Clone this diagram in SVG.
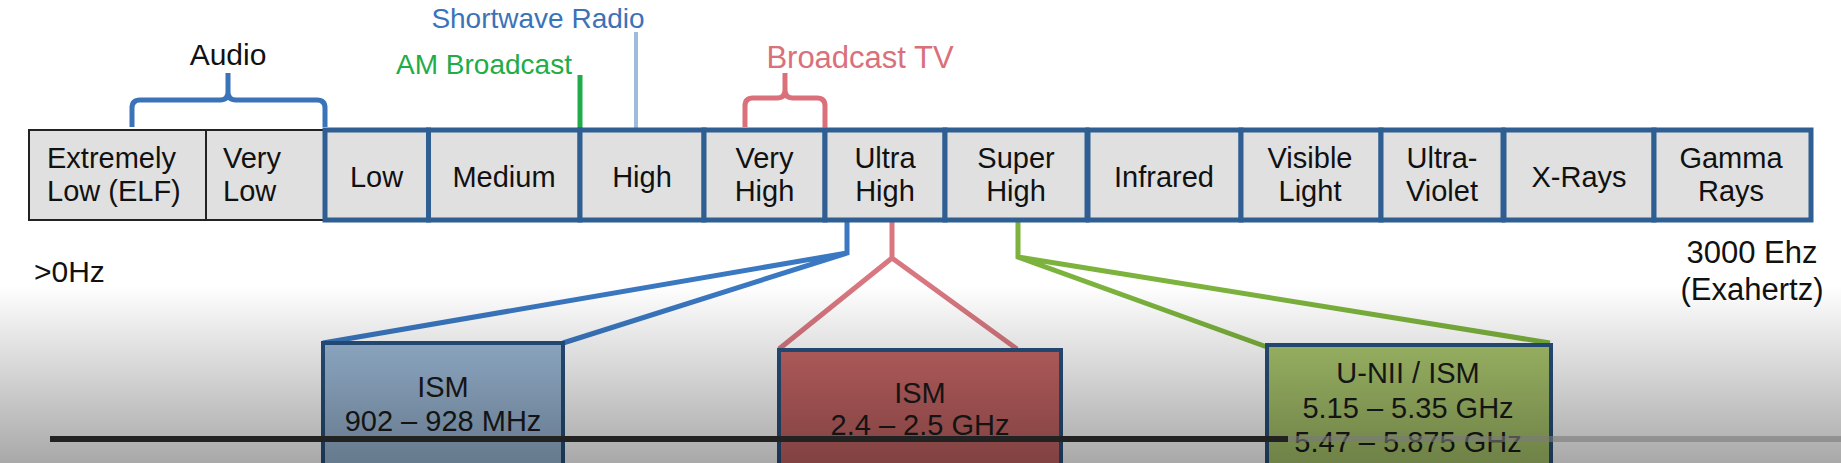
<svg xmlns="http://www.w3.org/2000/svg" width="1841" height="463" viewBox="0 0 1841 463">
<defs>
<style>
text{font-family:"Liberation Sans",Arial,sans-serif;fill:#111;}
.bt{font-size:29px;text-anchor:middle;}
.bl{font-size:29px;text-anchor:start;}
.band{fill:#e0e0e0;stroke:#2f5e92;stroke-width:5;}
.aud{fill:#e0e0e0;stroke:#222;stroke-width:2;}
.sub{stroke:#27507c;stroke-width:4;}
.lt{font-size:29px;text-anchor:middle;fill:#1a1a1a;}
.conn{fill:none;stroke-width:5;stroke-linejoin:miter;}
</style>
<linearGradient id="shade" x1="0" y1="0" x2="0" y2="1">
<stop offset="0" stop-color="#000" stop-opacity="0"/>
<stop offset="1" stop-color="#000" stop-opacity="0.34"/>
</linearGradient>
</defs>
<rect x="0" y="0" width="1841" height="463" fill="#ffffff"/>

<g id="connectors">
<path class="conn" stroke="#3b73b9" d="M132,127 V108 Q132,100 140,100 H220 Q228,100 228,92 V73 M228,92 Q228,100 236,100 H317 Q325,100 325,108 V127"/>
<path class="conn" stroke="#d9707a" d="M745,127 V106 Q745,98 753,98 H777 Q785,98 785,90 V73 M785,90 Q785,98 793,98 H817 Q825,98 825,106 V127"/>
<line x1="580" y1="75" x2="580" y2="129" stroke="#21ac48" stroke-width="5"/>
<line x1="636" y1="32" x2="636" y2="128" stroke="#9cbcdc" stroke-width="4"/>
<path class="conn" stroke="#3a78c2" d="M847,220 V253 L323,343 M847,253 L563,343"/>
<path class="conn" stroke="#d87780" stroke-width="4" d="M892,220 V258 L779,349 M892,258 L1017,349"/>
<path class="conn" stroke="#7cb33d" d="M1018,220 V257 L1267,347 M1018,257 L1550,343"/>
</g>

<g id="label-audio"><text x="228" y="65" style="font-size:30px;text-anchor:middle">Audio</text></g>
<g id="label-shortwave"><text x="538" y="28" style="font-size:28px;text-anchor:middle;fill:#3b73b9">Shortwave Radio</text></g>
<g id="label-am"><text x="484" y="74" style="font-size:28px;text-anchor:middle;fill:#21ac48">AM Broadcast</text></g>
<g id="label-tv"><text x="860" y="68" style="font-size:31px;text-anchor:middle;fill:#d9707a">Broadcast TV</text></g>

<g id="elf"><rect class="aud" x="29" y="130" width="177" height="90"/><text class="bl" x="47" y="168">Extremely</text><text class="bl" x="47" y="201">Low (ELF)</text></g>
<g id="vlf"><rect class="aud" x="206" y="130" width="119" height="90"/><text class="bl" x="223" y="168">Very</text><text class="bl" x="223" y="201">Low</text></g>
<g id="low"><rect class="band" x="325" y="130" width="103.5" height="90"/><text class="bt" x="376.5" y="187">Low</text></g>
<g id="medium"><rect class="band" x="428.5" y="130" width="151.5" height="90"/><text class="bt" x="504" y="187">Medium</text></g>
<g id="high"><rect class="band" x="580" y="130" width="124" height="90"/><text class="bt" x="642" y="187">High</text></g>
<g id="vhf"><rect class="band" x="704" y="130" width="121" height="90"/><text class="bt" x="764.5" y="168">Very</text><text class="bt" x="764.5" y="201">High</text></g>
<g id="uhf"><rect class="band" x="825" y="130" width="120" height="90"/><text class="bt" x="885" y="168">Ultra</text><text class="bt" x="885" y="201">High</text></g>
<g id="shf"><rect class="band" x="945" y="130" width="142" height="90"/><text class="bt" x="1016" y="168">Super</text><text class="bt" x="1016" y="201">High</text></g>
<g id="infrared"><rect class="band" x="1088" y="130" width="153" height="90"/><text class="bt" x="1164" y="187">Infrared</text></g>
<g id="visible"><rect class="band" x="1241" y="130" width="140" height="90"/><text class="bt" x="1310" y="168">Visible</text><text class="bt" x="1310" y="201">Light</text></g>
<g id="uv"><rect class="band" x="1381" y="130" width="122" height="90"/><text class="bt" x="1442" y="168">Ultra-</text><text class="bt" x="1442" y="201">Violet</text></g>
<g id="xrays"><rect class="band" x="1504" y="130" width="150" height="90"/><text class="bt" x="1579" y="187">X-Rays</text></g>
<g id="gamma"><rect class="band" x="1654" y="130" width="157" height="90"/><text class="bt" x="1731" y="168">Gamma</text><text class="bt" x="1731" y="201">Rays</text></g>

<g id="label-min"><text x="34" y="282" style="font-size:30px">&gt;0Hz</text></g>
<g id="label-max"><text x="1752" y="263" style="font-size:31px;text-anchor:middle">3000 Ehz</text><text x="1752" y="300" style="font-size:31px;text-anchor:middle">(Exahertz)</text></g>

<g id="ism-900"><rect class="sub" x="323" y="343" width="240" height="130" fill="#9bb8d6"/><text class="lt" x="443" y="397">ISM</text><text class="lt" x="443" y="431">902 – 928 MHz</text></g>
<g id="ism-24"><rect class="sub" x="779" y="350" width="282" height="125" fill="#c46464"/><text class="lt" x="920" y="403">ISM</text><text class="lt" x="920" y="435">2.4 – 2.5 GHz</text></g>
<g id="unii"><rect class="sub" x="1267" y="345" width="284" height="130" fill="#a8c46c"/><text class="lt" x="1408" y="383">U-NII / ISM</text><text class="lt" x="1408" y="418">5.15 – 5.35 GHz</text><text class="lt" x="1408" y="452">5.47 – 5.875 GHz</text></g>

<rect x="0" y="285" width="1841" height="178" fill="url(#shade)"/>
<rect x="1288" y="436" width="553" height="6" fill="#7a7a7a" fill-opacity="0.6"/>
<rect x="50" y="436" width="1238" height="6" fill="#222"/>
</svg>
